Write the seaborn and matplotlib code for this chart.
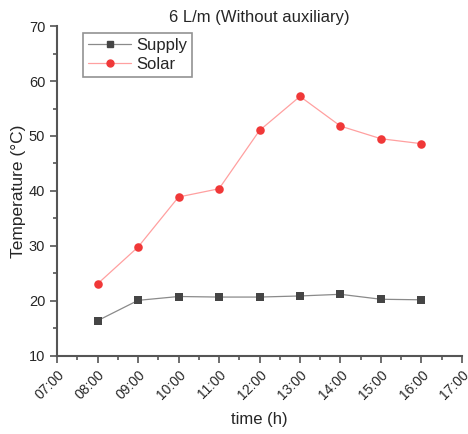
import matplotlib
matplotlib.use("Agg")
import matplotlib.pyplot as plt
from matplotlib.lines import Line2D
from matplotlib.ticker import MultipleLocator
import seaborn as sns
import pandas as pd

hours = [8, 9, 10, 11, 12, 13, 14, 15, 16]
supply = [16.4, 20.1, 20.8, 20.7, 20.7, 20.9, 21.2, 20.3, 20.2]
solar = [23.1, 29.8, 38.9, 40.4, 51.0, 57.2, 51.8, 49.5, 48.6]
xtick_hours = list(range(7, 18))
xtick_labels = [f"{h:02d}:00" for h in xtick_hours]

sns.set_style("ticks")
plt.rcParams['font.family'] = ['Liberation Sans', 'DejaVu Sans']

df_sup = pd.DataFrame({"h": hours, "T": supply})
df_sol = pd.DataFrame({"h": hours, "T": solar})

fig = plt.figure(figsize=(4.68, 4.34), dpi=100)
ax = fig.add_axes([0.122, 0.180, 0.865, 0.760])

sup_line, sup_mark = "#8a8a8a", "#454545"
sol_line, sol_mark = "#ffa0a0", "#f03838"

sns.lineplot(data=df_sup, x="h", y="T", color=sup_line, lw=0.9, ax=ax)
sns.scatterplot(data=df_sup, x="h", y="T", color=sup_mark, marker="s", s=30, edgecolor=sup_mark, linewidth=0, ax=ax, zorder=3)
sns.lineplot(data=df_sol, x="h", y="T", color=sol_line, lw=0.9, ax=ax)
sns.scatterplot(data=df_sol, x="h", y="T", color=sol_mark, marker="o", s=38, edgecolor=sol_mark, linewidth=0, ax=ax, zorder=3)

ax.set_xlim(7, 17)
ax.set_ylim(10, 70)
ax.set_xticks(xtick_hours)
ax.set_xticklabels(xtick_labels, rotation=45, ha="right", rotation_mode="anchor", fontsize=10)
ax.xaxis.set_minor_locator(MultipleLocator(0.5))
ax.yaxis.set_major_locator(MultipleLocator(10))
ax.yaxis.set_minor_locator(MultipleLocator(5))
ax.tick_params(axis="y", labelsize=10.5)
for s in ["top", "right"]:
    ax.spines[s].set_visible(False)
for s in ["left", "bottom"]:
    ax.spines[s].set_color("#555555")
    ax.spines[s].set_linewidth(1.5)
ax.tick_params(which="major", length=5, width=1.2, color="#555555")
ax.tick_params(which="minor", length=3, width=1.2, color="#555555")

ax.set_xlabel("time (h)", fontsize=12, labelpad=7)
ax.set_ylabel("Temperature (°C)", fontsize=12.5, labelpad=2)
ax.set_title("6 L/m (Without auxiliary)", fontsize=12, pad=3)

handles = [
    Line2D([0], [0], color=sup_line, lw=0.9, marker="s", markersize=4.2, markerfacecolor=sup_mark, markeredgecolor=sup_mark),
    Line2D([0], [0], color=sol_line, lw=0.9, marker="o", markersize=5, markerfacecolor=sol_mark, markeredgecolor=sol_mark),
]
leg = ax.legend(handles, ["Supply", "Solar"], loc="upper left", bbox_to_anchor=(0.064, 0.979),
                borderaxespad=0, fontsize=12, frameon=True, fancybox=False, edgecolor="#777777",
                handlelength=2.6, borderpad=0.3, labelspacing=0.25, handletextpad=0.3)
leg.get_frame().set_linewidth(1.2)

fig.savefig("out.png", dpi=100)
